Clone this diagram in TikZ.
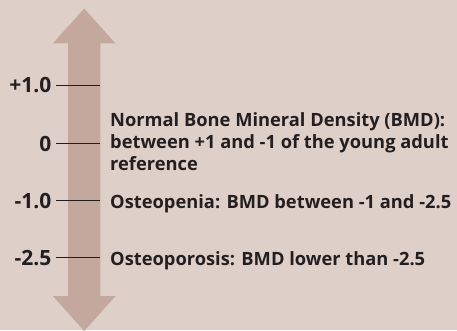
\documentclass[tikz,border=0pt]{standalone}
\usepackage{fontspec}
\setmainfont{Open Sans}
\definecolor{bg}{RGB}{222,207,200}
\definecolor{arr}{RGB}{196,168,158}
\definecolor{ink}{RGB}{35,31,32}
\begin{document}
\begin{tikzpicture}[x=1pt,y=1pt,
  lab/.style={font=\bfseries\fontsize{18.3}{22}\selectfont, text=ink, inner sep=0pt},
  scalelab/.style={font=\bfseries\fontsize{21}{24}\selectfont, text=ink, inner sep=0pt},
  tickline/.style={draw=ink, line width=1.3pt}]
\fill[bg] (0,0) rectangle (457,330);
\useasboundingbox (0,0) rectangle (457,330);
% double arrow
\fill[arr] (84.2,321.5) -- (115.5,286.5) -- (100.3,286.5) -- (100.3,34) -- (115.5,34)
  -- (84.2,-1) -- (52.8,34) -- (68.2,34) -- (68.2,286.5) -- (52.8,286.5) -- cycle;
% tick coordinates
\coordinate (a1) at (56,244.3); \coordinate (b1) at (100.3,244.3);
\coordinate (a2) at (56,186.7); \coordinate (b2) at (100.3,186.7);
\coordinate (a3) at (56,129.3); \coordinate (b3) at (100.3,129.3);
\coordinate (a4) at (56,72.7);  \coordinate (b4) at (100.3,72.7);
\draw[tickline] (a1) -- (b1);
\draw[tickline] (a2) -- (b2);
\draw[tickline] (a3) -- (b3);
\draw[tickline] (a4) -- (b4);
% scale labels
\node[scalelab, anchor=base east] (s1) at (51.5,237) {+1.0};
\node[scalelab, anchor=base east] (s2) at (51.5,179) {0};
\node[scalelab, anchor=base east] (s3) at (51.5,122) {-1.0};
\node[scalelab, anchor=base east] (s4) at (51.5,65) {-2.5};
% descriptions
\node[lab, anchor=base west] (n1) at (110,204) {Normal Bone Mineral Density (BMD):};
\node[lab, anchor=base west] (n2) at (110,181.7) {between +1 and -1 of the young adult};
\node[lab, anchor=base west] (n3) at (110,160) {reference};
\node[lab, anchor=base west] (o1) at (110,122) {Osteopenia: BMD between -1 and -2.5};
\node[lab, anchor=base west] (o2) at (110,65) {Osteoporosis: BMD lower than -2.5};
\end{tikzpicture}
\end{document}
